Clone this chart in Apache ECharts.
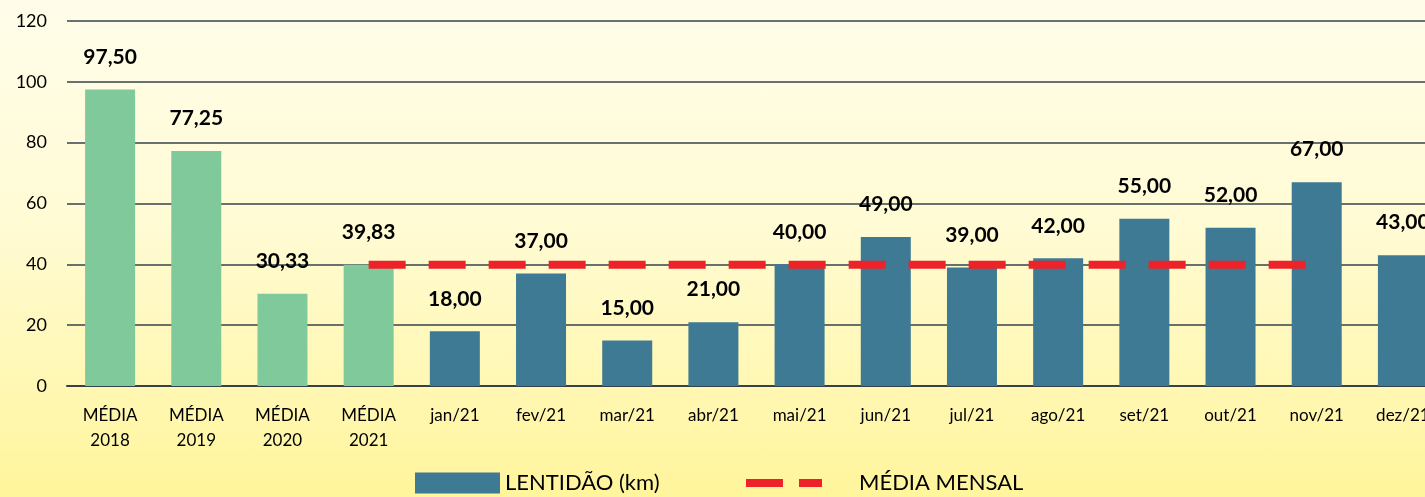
<!DOCTYPE html>
<html>
<head>
<meta charset="utf-8">
<script src="https://cdn.jsdelivr.net/npm/echarts@6/dist/echarts.min.js"></script>
<style>
  html, body { margin: 0; padding: 0; width: 1425px; height: 497px; overflow: hidden; }
  body { background: linear-gradient(180deg, #fffdea 0%, #fffbd4 45%, #fff59c 100%); }
  #chart { width: 1460px; height: 497px; }
</style>
</head>
<body>
<div id="chart"></div>
<script>
// Categories: yearly averages followed by the months of 2021
const categories = ['MÉDIA\n2018', 'MÉDIA\n2019', 'MÉDIA\n2020', 'MÉDIA\n2021',
  'jan/21', 'fev/21', 'mar/21', 'abr/21', 'mai/21', 'jun/21', 'jul/21', 'ago/21',
  'set/21', 'out/21', 'nov/21', 'dez/21'];
// Slowdown (km) per category
const lentidao = [97.50, 77.25, 30.33, 39.83, 18.00, 37.00, 15.00, 21.00, 40.00,
  49.00, 39.00, 42.00, 55.00, 52.00, 67.00, 43.00];
// Monthly average reference line (MÉDIA 2021 through nov/21)
const mediaMensal = [null, null, null, 39.83, 39.83, 39.83, 39.83, 39.83, 39.83,
  39.83, 39.83, 39.83, 39.83, 39.83, 39.83, null];
const yTicks = { min: 0, max: 120, interval: 20 };

const GREEN = '#80c99b';
const BLUE = '#3e7a93';
const RED = '#ee2229';
const GRID = '#34434b';
const FONT = 'Lato, "Noto Sans", sans-serif';

const chart = echarts.init(document.getElementById('chart'));
chart.setOption({
  animation: false,
  textStyle: { fontFamily: FONT },
  grid: { left: 67, width: 1379, top: 21, bottom: 111, containLabel: false },
  legend: [
    {
      data: [{ name: 'LENTIDÃO (km)', icon: 'rect', itemStyle: { color: BLUE } }],
      left: 410, top: 467, itemWidth: 85, itemHeight: 21, itemGap: 10,
      textStyle: { fontSize: 22, color: '#000', fontFamily: FONT }
    },
    {
      data: [{
        name: 'MÉDIA MENSAL',
        icon: 'path://M0,0H37V8H0Z M53,0H76V8H53Z',
        itemStyle: { color: RED, borderWidth: 0 }
      }],
      symbolKeepAspect: false,
      left: 741, top: 467, itemWidth: 76, itemHeight: 8, itemGap: 40,
      textStyle: { fontSize: 22, color: '#000', fontFamily: FONT, padding: [0, 0, 0, 32] }
    }
  ],
  xAxis: {
    type: 'category',
    data: categories,
    axisTick: { show: false },
    axisLine: { lineStyle: { color: GRID, width: 2 } },
    axisLabel: { color: '#000', fontSize: 17, lineHeight: 25, margin: 17, interval: 0, fontFamily: FONT }
  },
  yAxis: {
    type: 'value',
    min: yTicks.min, max: yTicks.max, interval: yTicks.interval,
    axisLine: { show: false },
    axisTick: { show: false },
    axisLabel: { color: '#000', fontSize: 18, margin: 20, fontFamily: FONT },
    splitLine: { lineStyle: { color: GRID, width: 1.5 } }
  },
  series: [
    {
      name: 'LENTIDÃO (km)',
      type: 'bar',
      barWidth: 50,
      data: lentidao.map((v, i) => ({ value: v, itemStyle: { color: i < 4 ? GREEN : BLUE } })),
      itemStyle: { color: BLUE },
      label: {
        show: true, position: 'top', distance: 22,
        color: '#000', fontSize: 21, fontWeight: 'bold', fontFamily: FONT,
        formatter: p => p.value.toFixed(2).replace('.', ',')
      },
      z: 2
    },
    {
      name: 'MÉDIA MENSAL',
      type: 'line',
      data: mediaMensal,
      symbol: 'none',
      color: RED,
      lineStyle: { color: RED, width: 8, type: [37, 23], cap: 'butt' },
      z: 3
    }
  ]
});
</script>
</body>
</html>
